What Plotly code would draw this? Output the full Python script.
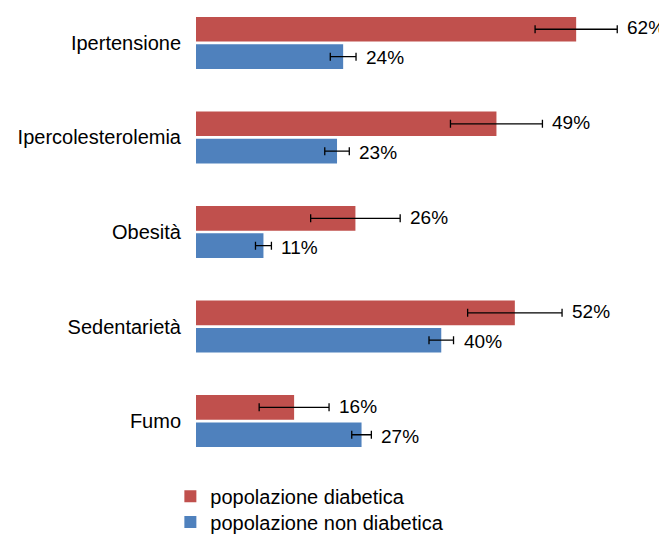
import plotly.graph_objects as go

categories = ["Ipertensione", "Ipercolesterolemia", "Obesità", "Sedentarietà", "Fumo"]
diabetici = [62, 49, 26, 52, 16]
diabetici_err = [6.7, 7.5, 7.3, 7.7, 5.7]
non_diabetici = [24, 23, 11, 40, 27]
non_diabetici_err = [2.1, 2.0, 1.3, 2.0, 1.6]
series_names = ["popolazione diabetica", "popolazione non diabetica"]

RED = "#C0504D"
BLUE = "#4F81BD"
FONT = "Liberation Sans, Arial, sans-serif"

fig = go.Figure()
for name, vals, errs, col, leg in [
    (series_names[0], diabetici, diabetici_err, RED, "legend"),
    (series_names[1], non_diabetici, non_diabetici_err, BLUE, "legend2"),
]:
    fig.add_trace(go.Bar(
        name=name, y=categories, x=vals, orientation="h",
        marker=dict(color=col, line=dict(width=0)),
        error_x=dict(type="data", array=errs, visible=True,
                     color="black", thickness=1.3, width=4),
        legend=leg, hoverinfo="x+y",
    ))

# data labels placed just past the error bar end
annotations = []
for ti, (vals, errs) in enumerate([(diabetici, diabetici_err), (non_diabetici, non_diabetici_err)]):
    for i, (v, e) in enumerate(zip(vals, errs)):
        annotations.append(dict(
            x=v + e, y=categories[i], xref="x", yref="y",
            text=f"{v}%", showarrow=False, xanchor="left", yanchor="middle",
            xshift=8, yshift=(15 if ti == 0 else -15),
            font=dict(family=FONT, size=19, color="#000000"),
        ))

legend_common = dict(xanchor="left", yanchor="top", orientation="v",
                     font=dict(family=FONT, size=20, color="#000000"),
                     itemwidth=30, bgcolor="rgba(0,0,0,0)", borderwidth=0)

# figure is 8px smaller than the window to allow for the page's body margin
fig.update_layout(
    width=659, height=527,
    margin=dict(l=188, r=5, t=0, b=67, pad=0, autoexpand=False),
    paper_bgcolor="white", plot_bgcolor="white",
    barmode="group", bargap=0.42, bargroupgap=0.1,
    font=dict(family=FONT, size=20, color="#000000"),
    xaxis=dict(range=[0, 76], visible=False, showgrid=False, zeroline=False,
               automargin=False),
    yaxis=dict(range=[4.497, -0.370], showgrid=False, zeroline=False,
               showline=False, ticks="", ticklabelstandoff=14, automargin=False,
               tickfont=dict(family=FONT, size=20, color="#000000")),
    legend=dict(x=-0.055, y=-0.019, **legend_common),
    legend2=dict(x=-0.055, y=-0.075, **legend_common),
    annotations=annotations,
    showlegend=True,
)

fig.write_html("out.html")
